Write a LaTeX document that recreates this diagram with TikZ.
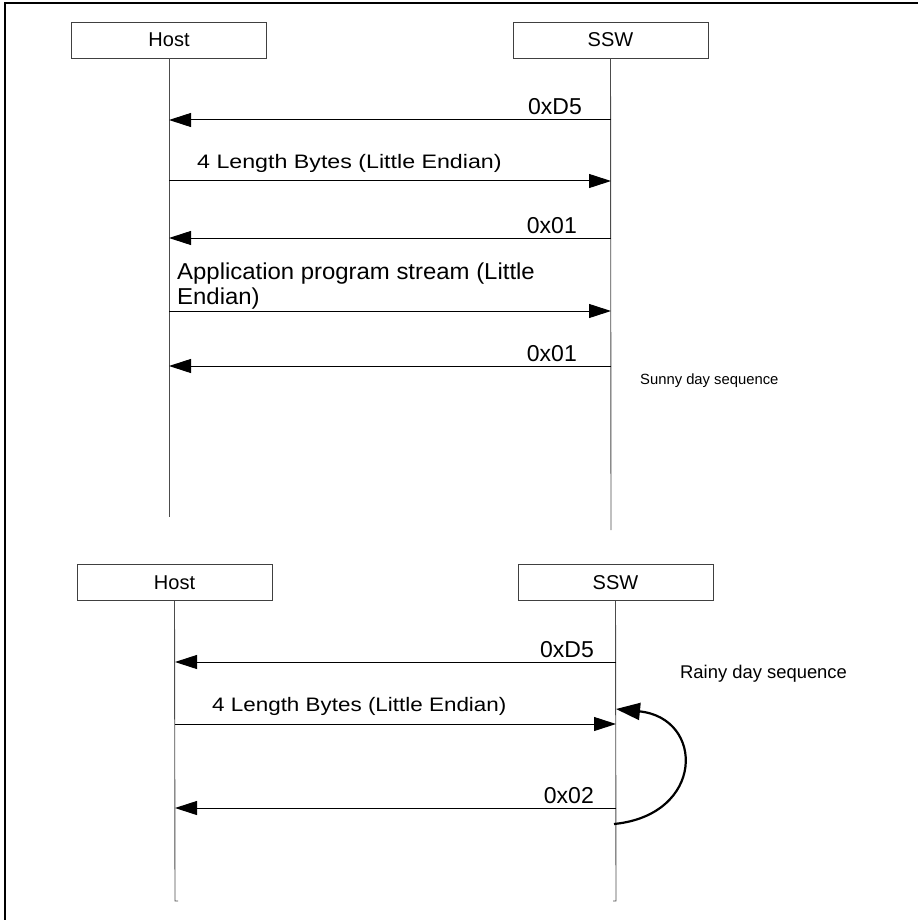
\documentclass[tikz,border=0pt]{standalone}
\usepackage{fontspec}
\setmainfont{Liberation Sans}
\usetikzlibrary{arrows.meta}
\newcommand{\sx}[2]{\scalebox{#1}[1]{#2}}
\tikzset{
  lbox/.style={draw=black!75, line width=0.9pt, minimum width=195pt, minimum height=36pt, inner sep=0pt, font=\fontsize{20}{23}\selectfont},
  life/.style={draw=black!70, line width=0.9pt},
  msg/.style={draw=black, line width=1pt, -{Triangle[length=22pt,width=14pt]}},
  lab/.style={inner sep=0pt, font=\fontsize{23}{26}\selectfont},
  slab/.style={inner sep=0pt, font=\fontsize{19.5}{22}\selectfont},
  side/.style={inner sep=0pt, font=\fontsize{14.8}{17}\selectfont},
  rside/.style={inner sep=0pt, font=\fontsize{18.4}{21}\selectfont},
  frame/.style={draw=black, line width=1.8pt}
}
\begin{document}
\begin{tikzpicture}[x=1pt,y=-1pt]
\useasboundingbox (0,0) rectangle (918,920);
% frame
\coordinate (f1) at (5,920);
\coordinate (f2) at (5,3);
\coordinate (f3) at (918,3);
\draw[frame] (f1) -- (f2) -- (f3);

% ---------- top: sunny day ----------
\node[lbox] (h1) at (169,40) {Host};
\node[lbox] (s1) at (610.5,40) {SSW};
\coordinate (h1e) at (169,517);
\coordinate (s1e) at (611,530);
\draw[life] (h1.south) -- (h1e);
\draw[life] (s1.south) -- (s1e);

\coordinate (s1a) at (611,120); \coordinate (h1a) at (169,120);
\coordinate (h1b) at (169,181); \coordinate (s1b) at (611,181);
\coordinate (s1c) at (611,238); \coordinate (h1c) at (169,238);
\coordinate (h1d) at (169,311); \coordinate (s1d) at (611,311);
\coordinate (s1f) at (611,366); \coordinate (h1f) at (169,366);

\draw[msg] (s1a) -- (h1a);
\draw[msg] (h1b) -- (s1b);
\draw[msg] (s1c) -- (h1c);
\draw[msg] (h1d) -- (s1d);
\draw[msg] (s1f) -- (h1f);

\node[lab, anchor=base east] (l1) at (582,115) {0xD5};
\node[slab, anchor=base west] (l2) at (197,168) {\sx{1.19}{4 Length Bytes (Little Endian)}};
\node[lab, anchor=base east] (l3) at (577,233) {0x01};
\node[lab, anchor=base west] (l4a) at (177,279) {\sx{1.04}{Application program stream (Little}};
\node[lab, anchor=base west] (l4b) at (177,304) {\sx{1.04}{Endian)}};
\node[lab, anchor=base east] (l5) at (577,361) {0x01};
\node[side, anchor=base west] (sun) at (640,384) {Sunny day sequence};

% ---------- bottom: rainy day ----------
\node[lbox] (h2) at (174.5,582.5) {Host};
\node[lbox] (s2) at (615.5,582.5) {SSW};
\coordinate (h2e) at (175,901);
\coordinate (s2e) at (616,901);
\coordinate (h2t) at (178,901);
\coordinate (s2t) at (613,901);
\draw[life] (h2.south) -- (h2e) -- (h2t);
\draw[life] (s2.south) -- (s2e) -- (s2t);

\coordinate (s2a) at (616,662); \coordinate (h2a) at (175,662);
\coordinate (h2b) at (175,724); \coordinate (s2b) at (616,724);
\coordinate (s2c) at (616,808); \coordinate (h2c) at (175,808);

\draw[msg] (s2a) -- (h2a);
\draw[msg] (h2b) -- (s2b);
\draw[msg] (s2c) -- (h2c);

\node[lab, anchor=base east] (m1) at (594,657) {0xD5};
\node[slab, anchor=base west] (m2) at (212,711) {\sx{1.15}{4 Length Bytes (Little Endian)}};
\node[lab, anchor=base east] (m3) at (594,803) {0x02};
\node[rside, anchor=base west] (rain) at (680,678) {Rainy day sequence};

\coordinate (c0) at (614,824);
\coordinate (c1) at (616,709);
\draw[line width=2.2pt, -{Triangle[length=24pt,width=17pt]}] (c0) .. controls (705,815) and (705,718) .. (c1);
\end{tikzpicture}
\end{document}
